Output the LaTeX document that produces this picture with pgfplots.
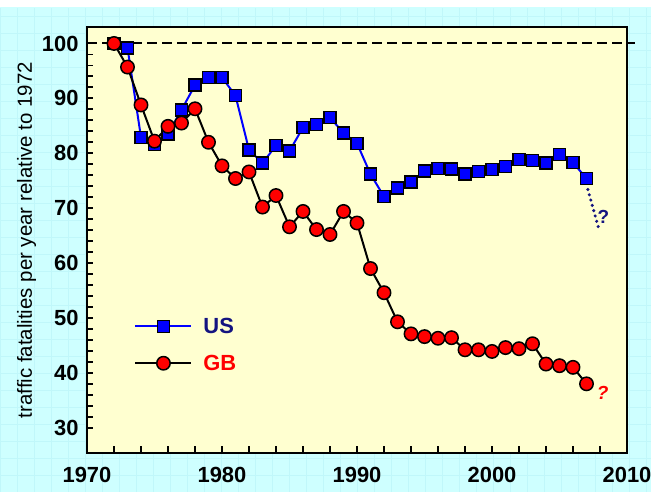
\documentclass[border=0pt]{standalone}
\usepackage{pgfplots}
\pgfplotsset{compat=1.18}
\usepackage{fontspec}
\setmainfont{Liberation Sans}

\definecolor{bgcyan}{RGB}{206,255,255}
\definecolor{gridcyan}{RGB}{192,247,250}
\definecolor{plotbg}{RGB}{255,255,208}
\definecolor{usblue}{RGB}{0,0,255}
\definecolor{usnavy}{RGB}{20,20,128}
\definecolor{gbred}{RGB}{255,0,0}

\begin{document}
\begin{tikzpicture}[x=1bp,y=1bp]
% page background
\fill[white] (0,0) rectangle (651,492);
\fill[bgcyan] (0,0) rectangle (651,484.5);
\draw[gridcyan, line width=0.6bp] (0,0) grid[step=17] (651,484);

\begin{axis}[
  at={(87bp,39bp)}, anchor=south west,
  scale only axis, width=540bp, height=426bp,
  xmin=1970, xmax=2010, ymin=25.4, ymax=103,
  clip=false,
  axis background/.style={fill=plotbg},
  axis line style={line width=2.5bp},
  xtick={1970,1980,...,2010}, ytick={30,40,...,100},
  minor x tick num=4, minor y tick num=4,
  xtick pos=lower, ytick pos=left,
  tick align=inside,
  major tick length=6.5bp, minor tick length=6.5bp,
  every tick/.style={black, line width=1.8bp},
  ticklabel style={font=\bfseries\fontsize{22}{24}\selectfont},
  /pgf/number format/assume math mode=true,
  xticklabel style={/pgf/number format/1000 sep=, yshift=-11bp},
  yticklabel style={xshift=-5bp},
  ylabel={traffic fatalities per year relative to 1972},
  every axis y label/.style={at={(axis description cs:-0.112,0.5)}, rotate=90, anchor=center, font=\fontsize{20.5}{22}\selectfont},
  legend style={at={(axis cs:1973.5,45.1)}, anchor=west, draw=none, fill=none,
    font=\bfseries\fontsize{22}{24}\selectfont, row sep=16bp, inner sep=0pt,
    /tikz/every odd column/.append style={column sep=9bp}},
  legend cell align=left,
  legend image code/.code={\draw[mark repeat=2,mark phase=2] plot coordinates {(0bp,0bp)(28bp,0bp)(56bp,0bp)};},
]
% reference line at 100
\addplot[black, line width=2bp, dash pattern=on 10bp off 5bp, forget plot] coordinates {(1970,100) (2010.6,100)};

% US
\addplot[usblue, line width=2bp, mark=square*, mark size=6bp,
  mark options={fill=usblue, draw=black, line width=1.5bp, solid}] coordinates {
(1972,100.0) (1973,99.2) (1974,82.9) (1975,81.6) (1976,83.5) (1977,87.9)
(1978,92.4) (1979,93.8) (1980,93.8) (1981,90.5) (1982,80.6) (1983,78.2)
(1984,81.4) (1985,80.4) (1986,84.7) (1987,85.2) (1988,86.5) (1989,83.7)
(1990,81.8) (1991,76.2) (1992,72.1) (1993,73.7) (1994,74.8) (1995,76.8)
(1996,77.2) (1997,77.1) (1998,76.2) (1999,76.7) (2000,77.0) (2001,77.6)
(2002,78.9) (2003,78.7) (2004,78.2) (2005,79.8) (2006,78.3) (2007,75.4)
};
\addlegendentry{\textcolor{usnavy}{US}}

% GB
\addplot[black, line width=2bp, mark=*, mark size=6.7bp,
  mark options={fill=gbred, draw=black, line width=1.5bp}] coordinates {
(1972,100.0) (1973,95.7) (1974,88.8) (1975,82.2) (1976,84.9) (1977,85.5)
(1978,88.1) (1979,82.0) (1980,77.7) (1981,75.4) (1982,76.6) (1983,70.2)
(1984,72.3) (1985,66.6) (1986,69.4) (1987,66.1) (1988,65.2) (1989,69.4)
(1990,67.3) (1991,59.0) (1992,54.6) (1993,49.3) (1994,47.1) (1995,46.6)
(1996,46.3) (1997,46.4) (1998,44.2) (1999,44.2) (2000,43.9) (2001,44.6)
(2002,44.4) (2003,45.3) (2004,41.6) (2005,41.3) (2006,41.0) (2007,38.0)
};
\addlegendentry{\textcolor{gbred}{GB}}

% projections
\addplot[usnavy, line width=3.4bp, line cap=round, dash pattern=on 0bp off 5.5bp, forget plot]
  coordinates {(2007.1,73.4) (2007.9,66.3)};
\node[usnavy, font=\fontsize{19}{19}\selectfont\bfseries] at (axis cs:2008.25,68.4) {?};
\node[gbred, font=\fontsize{19}{19}\selectfont\bfseries\itshape] at (axis cs:2008.2,36.3) {?};
\end{axis}

\pgfresetboundingbox
\path[use as bounding box] (0,0) rectangle (651,492);
\end{tikzpicture}
\end{document}
